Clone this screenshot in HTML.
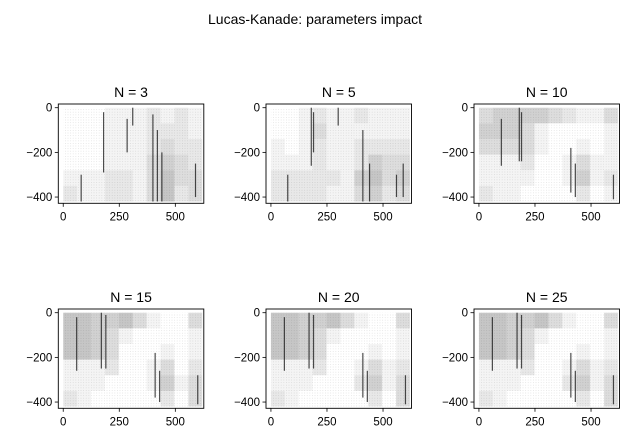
<!DOCTYPE html>
<html><head><meta charset="utf-8">
<style>
html,body{margin:0;padding:0;background:#fff;}
svg{display:block;font-family:"Liberation Sans","DejaVu Sans",sans-serif;}
</style></head>
<body>
<svg id="fig" width="630" height="442" viewBox="0 0 630 442">
<defs>
<pattern id="dots" width="2.6" height="2.6" patternUnits="userSpaceOnUse">
<rect x="0" y="0" width="0.8" height="0.8" fill="#dedede"/>
</pattern>
</defs>
<text x="315" y="24" font-size="14" text-anchor="middle" fill="#000">Lucas-Kanade: parameters impact</text>
</svg>
<script>
const titles = ["N = 3","N = 5","N = 10","N = 15","N = 20","N = 25"];
const xTicks = [0,250,500];
const yTicks = [0,-200,-400];
const density = [
 [[1,1,1,2,2,2,3,2,3,2],[1,1,1,2,2,2,3,3,3,2],[1,1,1,2,2,2,3,4,3,3],[1,1,1,2,2,2,4,5,4,3],[2,2,2,3,3,2,4,6,4,4],[3,2,2,3,3,2,4,6,3,4]],
 [[1,1,2,3,2,2,3,2,2,2],[1,1,2,4,2,2,2,2,2,2],[2,1,2,3,2,2,3,3,3,3],[2,2,2,3,2,2,3,5,4,4],[3,3,3,3,3,2,5,6,4,5],[3,3,3,3,2,2,4,5,3,4]],
 [[4,5,5,5,5,4,3,2,2,4],[5,5,5,4,2,1,1,1,1,2],[4,4,4,4,2,1,1,2,1,2],[2,2,2,3,1,1,2,4,2,2],[2,2,2,2,1,1,2,5,2,3],[3,2,2,1,1,1,1,3,1,2]],
 [[6,6,5,5,6,4,2,1,1,4],[6,6,5,4,2,1,1,1,1,2],[6,6,5,4,1,1,1,2,1,2],[2,2,2,3,1,1,2,4,1,3],[2,2,2,1,1,1,2,5,2,4],[3,2,1,1,1,1,1,3,1,4]],
 [[6,6,5,5,6,4,2,1,1,4],[6,6,5,4,2,1,1,1,1,2],[6,6,5,4,1,1,1,2,1,2],[2,2,2,3,1,1,2,4,2,3],[2,2,2,1,1,1,3,5,2,4],[3,2,1,1,1,1,1,3,1,4]],
 [[6,6,5,5,6,4,2,1,1,4],[6,6,5,4,2,1,1,1,1,2],[6,6,5,4,1,1,1,2,1,2],[2,2,2,3,1,1,2,4,2,3],[2,2,2,1,1,1,3,5,2,4],[3,2,1,1,1,1,1,3,1,4]]
];
const streakX = [
 [180,400,420,440,310,590,80,285],
 [180,190,410,440,560,590,300,75],
 [180,190,410,430,600,100],
 [170,190,410,430,600,60],
 [170,190,410,430,600,60],
 [170,190,410,430,600,60]
];
const streakTop = [
 [-20,-30,-100,-200,0,-250,-300,-50],
 [0,-20,-100,-250,-300,-250,0,-300],
 [0,-20,-180,-250,-300,-50],
 [0,-10,-180,-260,-280,-20],
 [0,-10,-180,-260,-280,-20],
 [0,-10,-180,-260,-280,-20]
];
const streakBottom = [
 [-290,-420,-420,-420,-80,-400,-420,-200],
 [-260,-200,-420,-420,-400,-400,-80,-420],
 [-240,-240,-380,-400,-410,-260],
 [-250,-250,-380,-400,-410,-260],
 [-250,-250,-380,-400,-410,-260],
 [-250,-250,-380,-400,-410,-260]
];
const ns="http://www.w3.org/2000/svg";
const svg=document.getElementById('fig');
const colLeft=[58.3,266,474], rowTop=[104,309], W=145.5, H=99.3;
function mk(t,a,p){const e=document.createElementNS(ns,t);for(const k in a)e.setAttribute(k,a[k]);(p||svg).appendChild(e);return e;}
for(let i=0;i<6;i++){
 const L=colLeft[i%3], T=rowTop[Math.floor(i/3)];
 const sx=v=>L+(v+22)*(W/649);
 const sy=v=>T+(16.6-v)*(H/444.6);
 const g=mk('g',{});
 
 
 mk('rect',{x:sx(0),y:sy(0),width:sx(620)-sx(0),height:sy(-420)-sy(0),fill:'url(#dots)'},g);
 const d=density[i];
 for(let r=0;r<d.length;r++)for(let c=0;c<d[r].length;c++){
  const cell=mk('rect',{x:sx(c*62),y:sy(-r*70),width:sx(62)-sx(0),height:sy(-70)-sy(0),fill:'#000','fill-opacity':Math.max(0,d[r][c]-1)*0.045},g);
  
  
 }
 for(let k=0;k<streakX[i].length;k++){
  const s=mk('line',{x1:sx(streakX[i][k]),x2:sx(streakX[i][k]),y1:sy(streakTop[i][k]),y2:sy(streakBottom[i][k]),stroke:'#111','stroke-width':1.2,'stroke-opacity':0.75},g);
  
  
 }
 const fr=mk('rect',{x:L,y:T,width:W,height:H,fill:'none',stroke:'#000','stroke-width':0.9},g);
 
 
 const tt=mk('text',{x:L+W/2,y:T-7,'font-size':14,'text-anchor':'middle',fill:'#000'},g);
 tt.textContent=titles[i];
 
 
 xTicks.forEach(v=>{
  mk('line',{x1:sx(v),x2:sx(v),y1:T+H,y2:T+H+3.5,stroke:'#000','stroke-width':0.8},g);
  const t=mk('text',{x:sx(v),y:T+H+17,'font-size':11.5,'text-anchor':'middle',fill:'#000'},g);
  t.textContent=v;
  
  
 });
 yTicks.forEach(v=>{
  mk('line',{x1:L-3.5,x2:L,y1:sy(v),y2:sy(v),stroke:'#000','stroke-width':0.8},g);
  const t=mk('text',{x:L-6,y:sy(v)+4,'font-size':11.5,'text-anchor':'end',fill:'#000'},g);
  t.textContent=v<0?'\u2212'+(-v):v;
  
  
 });
}
</script>
</body></html>
